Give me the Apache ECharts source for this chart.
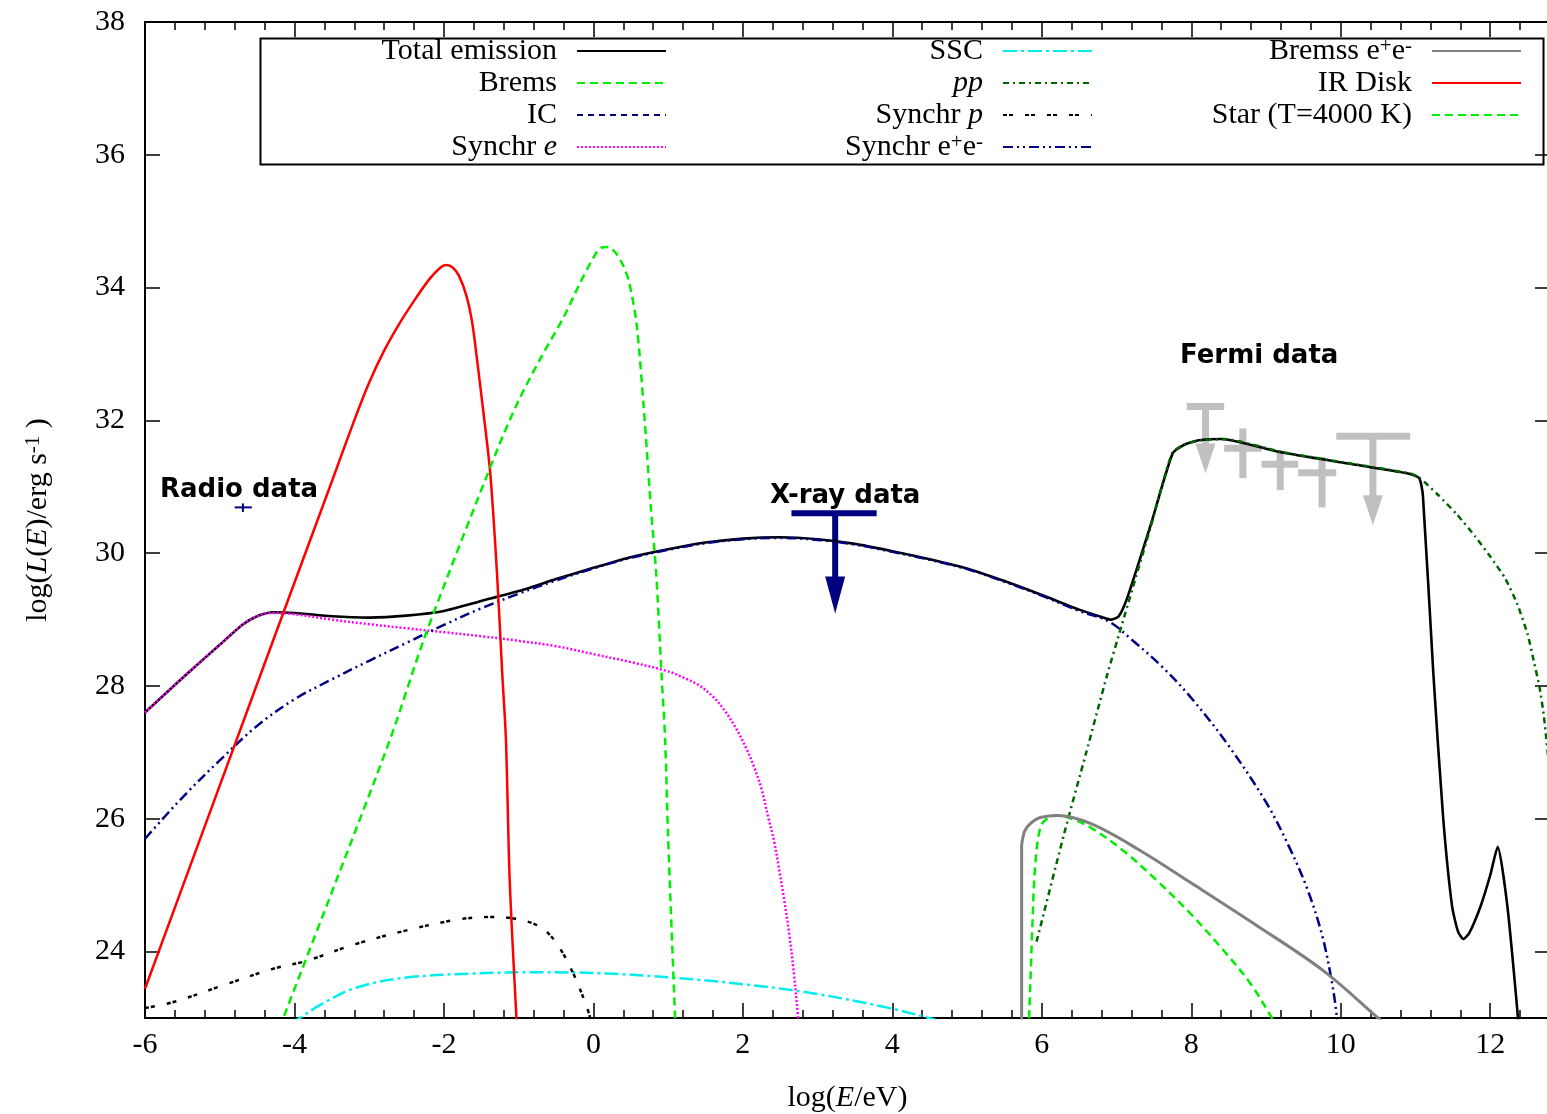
<!DOCTYPE html>
<html><head><meta charset="utf-8">
<script src="https://cdn.jsdelivr.net/npm/echarts@6/dist/echarts.min.js"></script>
<style>html,body{margin:0;padding:0;background:#fff;}#c{width:1547px;height:1114px;}</style>
</head><body><div id="c"></div>
<script>
// ---------- tick labels ----------
const yTicks = [24, 26, 28, 30, 32, 34, 36, 38];

// ---------- model curves (log E/eV , log L) ----------
const totalX = [-6, -5.5, -5, -4.7, -4.5, -4.3, -4, -3.5, -3, -2.5, -2, -1.5, -1, -0.5, 0, 0.5, 1, 1.5, 2, 2.5, 3, 3.5, 4, 4.5, 5, 5.5, 6, 6.5, 6.8, 6.93, 7.03, 7.15, 7.45, 7.75, 7.9, 8.1, 8.4, 9.2, 10.1, 10.9, 11.05, 11.1, 11.24, 11.37, 11.49, 11.57, 11.64, 11.72, 11.87, 12.0, 12.1, 12.23, 12.38];
const totalY = [27.6, 28.12, 28.62, 28.92, 29.05, 29.11, 29.1, 29.05, 29.03, 29.06, 29.13, 29.28, 29.43, 29.61, 29.78, 29.94, 30.06, 30.16, 30.22, 30.24, 30.21, 30.14, 30.03, 29.91, 29.77, 29.58, 29.37, 29.15, 29.04, 29.0, 29.05, 29.35, 30.4, 31.5, 31.63, 31.7, 31.72, 31.52, 31.35, 31.2, 31.13, 30.86, 28.17, 26.02, 24.68, 24.3, 24.19, 24.28, 24.68, 25.15, 25.58, 24.68, 22.9];

const bremsX = [5.82, 5.83, 5.87, 5.91, 5.98, 6.07, 6.2, 6.4, 6.65, 7.09, 7.54, 7.99, 8.43, 8.79, 9.08, 9.12];
const bremsY = [22.8, 23.0, 24.27, 25.27, 25.87, 26.0, 26.05, 26.0, 25.87, 25.52, 25.07, 24.57, 24.02, 23.52, 23.0, 22.9];

const icX = [];
const icY = [];

const synEX = [-6, -5.5, -5, -4.7, -4.5, -4.3, -4, -3.5, -3, -2.5, -2, -1.5, -1, -0.5, 0, 0.5, 1, 1.2, 1.4, 1.6, 1.75, 1.9, 2.05, 2.15, 2.25, 2.34, 2.42, 2.48, 2.55, 2.62, 2.68, 2.74, 2.78];
const synEY = [27.6, 28.12, 28.62, 28.92, 29.05, 29.1, 29.08, 29.0, 28.93, 28.87, 28.81, 28.75, 28.68, 28.6, 28.48, 28.36, 28.22, 28.13, 28.02, 27.84, 27.64, 27.38, 27.05, 26.78, 26.45, 26.02, 25.65, 25.27, 24.8, 24.27, 23.7, 23.0, 22.5];

const sscX = [-4.05, -3.93, -3.62, -3.17, -2.5, -1.61, -0.71, 0.18, 1.04, 2.0, 2.95, 3.92, 4.49, 4.6];
const sscY = [22.9, 23.0, 23.22, 23.46, 23.61, 23.67, 23.69, 23.67, 23.61, 23.51, 23.37, 23.16, 23.0, 22.96];

const ppX = [5.93, 6.3, 6.59, 6.88, 7.06, 7.45, 7.74, 7.89, 8.12, 8.43, 9.23, 10.13, 10.93, 11.06, 11.3, 11.55, 11.8, 12.0, 12.2, 12.36, 12.5, 12.58, 12.66, 12.72, 12.8];
const ppY = [24.15, 25.78, 26.98, 28.19, 28.88, 30.37, 31.5, 31.63, 31.7, 31.72, 31.52, 31.35, 31.2, 31.13, 30.88, 30.59, 30.25, 29.95, 29.62, 29.24, 28.78, 28.39, 27.98, 27.53, 26.65];

const synPX = [-6, -5.62, -4.96, -4.29, -3.84, -3.22, -2.5, -1.83, -1.4, -1.07, -0.71, -0.49, -0.27, -0.09, -0.03];
const synPY = [23.15, 23.24, 23.49, 23.74, 23.86, 24.1, 24.32, 24.48, 24.52, 24.5, 24.37, 24.12, 23.67, 23.17, 22.95];

const synPairX = [-6, -5.5, -5, -4.5, -4, -3.5, -3, -2.5, -2, -1.5, -1, -0.5, 0, 0.5, 1, 1.5, 2, 2.5, 3, 3.5, 4, 4.5, 5, 5.5, 6, 6.5, 6.9, 7.2, 7.6, 8.0, 8.5, 9.0, 9.3, 9.55, 9.75, 9.88, 9.95, 9.98];
const synPairY = [25.7, 26.32, 26.88, 27.4, 27.8, 28.1, 28.38, 28.65, 28.92, 29.17, 29.39, 29.59, 29.77, 29.93, 30.05, 30.15, 30.21, 30.23, 30.2, 30.13, 30.02, 29.9, 29.76, 29.57, 29.36, 29.13, 28.97, 28.7, 28.3, 27.82, 27.1, 26.25, 25.6, 24.95, 24.25, 23.55, 23.0, 22.6];

const bremPairX = [5.73, 5.73, 5.76, 5.8, 5.88, 5.98, 6.2, 6.65, 7.32, 7.99, 8.88, 9.77, 10.5, 10.55];
const bremPairY = [22.9, 25.57, 25.78, 25.87, 25.96, 26.02, 26.05, 25.93, 25.52, 25.04, 24.39, 23.71, 23.0, 22.95];

const irX = [-6, -5, -4.15, -3.5, -3.2, -3.0, -2.8, -2.6, -2.4, -2.2, -2.05, -1.97, -1.88, -1.8, -1.7, -1.62, -1.55, -1.48, -1.38, -1.29, -1.22, -1.17, -1.12, -1.03, -1.0];
const irY = [23.44, 26.5, 29.1, 31.08, 32.0, 32.57, 33.05, 33.45, 33.8, 34.12, 34.3, 34.34, 34.3, 34.18, 33.88, 33.46, 32.85, 32.2, 31.2, 29.7, 28.19, 27.18, 25.07, 23.0, 22.4];

const starX = [-4.2, -4.15, -3.43, -2.72, -2.24, -1.29, -1.0, -0.7, -0.4, -0.2, 0.0, 0.1, 0.2, 0.3, 0.4, 0.48, 0.577, 0.673, 0.768, 0.84, 0.911, 0.96, 0.998, 1.093, 1.11];
const starY = [22.85, 23.0, 25.1, 27.2, 28.79, 31.55, 32.3, 32.95, 33.55, 34.02, 34.45, 34.6, 34.61, 34.52, 34.33, 34.07, 33.46, 32.2, 30.7, 29.7, 28.19, 27.18, 25.78, 23.0, 22.6];

// ---------- observational data ----------
// Radio point: x, y, xlo, xhi, ylo, yhi
const radioX = [-4.69], radioY = [30.69], radioXlo = [-4.8], radioXhi = [-4.57], radioYlo = [30.62], radioYhi = [30.75];
// X-ray upper limit: x, y(bar), xlo, xhi, arrow tip y
const xrayX = [3.235], xrayY = [30.6], xrayXlo = [2.65], xrayXhi = [3.79], xrayTip = [29.09];
// Fermi detections
const fermiX = [8.69, 9.19, 9.75], fermiY = [31.58, 31.34, 31.21];
const fermiXlo = [8.44, 8.94, 9.43], fermiXhi = [8.94, 9.43, 9.94];
const fermiYlo = [31.13, 30.95, 30.69], fermiYhi = [31.88, 31.55, 31.45];
// Fermi upper limits
const fermiUlX = [8.19, 10.43], fermiUlY = [32.21, 31.76];
const fermiUlXlo = [7.94, 9.94], fermiUlXhi = [8.44, 10.93], fermiUlTip = [31.2, 30.42];

// ---------- helpers ----------
const zip = (xs, ys) => xs.map((x, i) => [x, ys[i]]);
const errData = (x, y, xlo, xhi, ylo, yhi) => x.map((v, i) => [v, y[i], xlo[i], xhi[i], ylo[i], yhi[i]]);
const ulData = (x, y, xlo, xhi, tip) => x.map((v, i) => [v, y[i], xlo[i], xhi[i], tip[i]]);

function errRenderer(color, w) {
  return function (params, api) {
    const x = api.value(0), y = api.value(1);
    const l = api.coord([api.value(2), y]), r = api.coord([api.value(3), y]);
    const t = api.coord([x, api.value(5)]), b = api.coord([x, api.value(4)]);
    const st = { stroke: color, lineWidth: w, lineCap: 'butt' };
    return { type: 'group', children: [
      { type: 'line', shape: { x1: l[0], y1: l[1], x2: r[0], y2: r[1] }, style: st },
      { type: 'line', shape: { x1: t[0], y1: t[1], x2: b[0], y2: b[1] }, style: st }
    ]};
  };
}
function ulRenderer(color, w, headLen, headHalf) {
  return function (params, api) {
    const x = api.value(0), y = api.value(1);
    const l = api.coord([api.value(2), y]), r = api.coord([api.value(3), y]);
    const c = api.coord([x, y]), tip = api.coord([x, api.value(4)]);
    const st = { stroke: color, lineWidth: w, lineCap: 'butt' };
    return { type: 'group', children: [
      { type: 'line', shape: { x1: l[0], y1: l[1], x2: r[0], y2: r[1] }, style: st },
      { type: 'line', shape: { x1: c[0], y1: c[1], x2: tip[0], y2: tip[1] - headLen + 2 }, style: st },
      { type: 'polygon', shape: { points: [[tip[0] - headHalf, tip[1] - headLen], [tip[0] + headHalf, tip[1] - headLen], [tip[0], tip[1]]] }, style: { fill: color } }
    ]};
  };
}

const SERIF = 'Liberation Serif';
function lineSeries(name, xs, ys, color, width, dash, z, smooth) {
  return {
    type: 'line', name, data: zip(xs, ys), symbol: 'none', showSymbol: false,
    smooth: smooth === undefined ? 0.35 : smooth, clip: true, z: z || 3, silent: true,
    lineStyle: { color, width, type: dash || 'solid', cap: 'butt', join: 'round' },
    itemStyle: { color }, emphasis: { disabled: true }
  };
}

const legendNames = {
  'Synchr e': '{n|Synchr }{i|e}',
  'pp': '{i|pp}',
  'Synchr p': '{n|Synchr }{i|p}',
  'Synchr e+e-': '{n|Synchr e}{s|+}{n|e}{s|-}',
  'Bremss e+e-': '{n|Bremss e}{s|+}{n|e}{s|-}'
};
const richStyles = {
  n: { fontFamily: SERIF, fontSize: 30, lineHeight: 30, color: '#000' },
  i: { fontFamily: SERIF, fontSize: 30, lineHeight: 30, fontStyle: 'italic', color: '#000' },
  s: { fontFamily: SERIF, fontSize: 21, lineHeight: 12, verticalAlign: 'top', color: '#000' }
};
function legendCol(names, right) {
  return {
    data: names, orient: 'vertical', align: 'right', right, top: 36, padding: 0,
    itemGap: 2, itemWidth: 89, itemHeight: 4, selectedMode: false,
    itemStyle: { opacity: 0 },
    formatter: nm => legendNames[nm] || ('{n|' + nm + '}'),
    textStyle: { fontFamily: SERIF, fontSize: 30, lineHeight: 30, color: '#000', padding: [0, 15, 0, 0], rich: richStyles }
  };
}

const axisLineStyle = { show: true, onZero: false, lineStyle: { color: '#000', width: 2 } };
const tickStyle = { color: '#000', width: 1.5 };

const option = {
  animation: false,
  backgroundColor: '#ffffff',
  grid: { left: 145, top: 22, width: 1405, height: 996, containLabel: false, outerBoundsMode: 'none' },
  xAxis: [
    { type: 'value', position: 'bottom', min: -6, max: 12.8, interval: 2,
      axisLine: axisLineStyle, axisTick: { inside: true, length: 15, lineStyle: tickStyle },
      axisLabel: { fontFamily: SERIF, fontSize: 30, color: '#000', margin: 12,
        formatter: v => (Math.abs(v % 2) < 1e-6 ? String(v) : '') },
      splitLine: { show: false },
      name: '{n|log(}{i|E}{n|/eV)}', nameLocation: 'middle', nameGap: 65,
      nameTextStyle: { fontFamily: SERIF, fontSize: 30, color: '#000', rich: richStyles } },
    { type: 'value', position: 'top', min: -6, max: 12.8, interval: 2,
      axisLine: axisLineStyle, axisTick: { inside: true, length: 15, lineStyle: tickStyle },
      axisLabel: { show: false }, splitLine: { show: false } },
    { type: 'value', position: 'bottom', min: -6, max: 12.8, interval: 0.4,
      axisLine: { show: false, onZero: false }, axisTick: { inside: true, length: 8, lineStyle: tickStyle },
      axisLabel: { show: false }, splitLine: { show: false } },
    { type: 'value', position: 'top', min: -6, max: 12.8, interval: 0.4,
      axisLine: { show: false, onZero: false }, axisTick: { inside: true, length: 8, lineStyle: tickStyle },
      axisLabel: { show: false }, splitLine: { show: false } }
  ],
  yAxis: [
    { type: 'value', position: 'left', min: 23, max: 38,
      axisLine: axisLineStyle, axisTick: { inside: true, length: 15, lineStyle: tickStyle, customValues: yTicks },
      axisLabel: { fontFamily: SERIF, fontSize: 30, color: '#000', margin: 20, customValues: yTicks },
      splitLine: { show: false },
      name: '{n|log(}{i|L}{n|(}{i|E}{n|)/erg s}{s|-1}{n| )}', nameLocation: 'middle', nameRotate: 90, nameGap: 92,
      nameTextStyle: { fontFamily: SERIF, fontSize: 30, color: '#000', rich: richStyles } },
    { type: 'value', position: 'right', min: 23, max: 38,
      axisLine: axisLineStyle, axisTick: { inside: true, length: 15, lineStyle: tickStyle, customValues: yTicks },
      axisLabel: { show: false }, splitLine: { show: false } }
  ],
  legend: [
    legendCol(['Total emission', 'Brems', 'IC', 'Synchr e'], 880),
    legendCol(['SSC', 'pp', 'Synchr p', 'Synchr e+e-'], 454),
    legendCol(['Bremss e+e-', 'IR Disk', 'Star (T=4000 K)'], 25)
  ],
  graphic: [
    { type: 'rect', left: 258, top: 36, shape: { width: 1283, height: 126 }, style: { fill: 'none', stroke: '#000', lineWidth: 2 }, z: 0, silent: true },
    { type: 'text', left: 160, top: 477, style: { text: 'Radio data', font: 'bold 26px "DejaVu Sans"', fill: '#000' }, silent: true },
    { type: 'text', left: 770, top: 483, style: { text: 'X-ray data', font: 'bold 26px "DejaVu Sans"', fill: '#000' }, silent: true },
    { type: 'text', left: 1180, top: 343, style: { text: 'Fermi data', font: 'bold 26px "DejaVu Sans"', fill: '#000' }, silent: true }
  ],
  series: [
    // data points (drawn under curves)
    { type: 'custom', name: 'Fermi points', silent: true, z: 1, clip: true,
      data: errData(fermiX, fermiY, fermiXlo, fermiXhi, fermiYlo, fermiYhi), renderItem: errRenderer('#c0c0c0', 7) },
    { type: 'custom', name: 'Fermi UL', silent: true, z: 1, clip: true,
      data: ulData(fermiUlX, fermiUlY, fermiUlXlo, fermiUlXhi, fermiUlTip), renderItem: ulRenderer('#c0c0c0', 7, 30, 10) },
    { type: 'custom', name: 'X-ray UL', silent: true, z: 1, clip: true,
      data: ulData(xrayX, xrayY, xrayXlo, xrayXhi, xrayTip), renderItem: ulRenderer('#000080', 6, 37, 10) },
    { type: 'custom', name: 'Radio', silent: true, z: 1, clip: true,
      data: errData(radioX, radioY, radioXlo, radioXhi, radioYlo, radioYhi), renderItem: errRenderer('#000080', 2) },
    // model curves
    lineSeries('Total emission', totalX, totalY, '#000000', 2.6, 'solid', 2, 0.2),
    lineSeries('Brems', bremsX, bremsY, '#00ee00', 2.5, [8, 5]),
    lineSeries('IC', icX, icY, '#000080', 3, [6, 5]),
    lineSeries('Synchr e', synEX, synEY, '#ff00ff', 2.5, [2, 2]),
    lineSeries('SSC', sscX, sscY, '#00eeee', 2.5, [14, 4, 3, 4]),
    lineSeries('pp', ppX, ppY, '#006400', 2.5, [6, 4, 2, 4], 3, 0.2),
    lineSeries('Synchr p', synPX, synPY, '#000000', 2.5, [4, 2, 4, 12]),
    lineSeries('Synchr e+e-', synPairX, synPairY, '#000080', 2.5, [10, 4, 2, 4, 2, 4]),
    lineSeries('Bremss e+e-', bremPairX, bremPairY, '#808080', 3, 'solid'),
    lineSeries('IR Disk', irX, irY, '#ff0000', 2.5, 'solid', 3, 0.3),
    lineSeries('Star (T=4000 K)', starX, starY, '#00ee00', 2.5, [8, 5], 3, 0.3)
  ]
};

const chart = echarts.init(document.getElementById('c'), null, { renderer: 'canvas' });
chart.setOption(option);
</script>
</body></html>
